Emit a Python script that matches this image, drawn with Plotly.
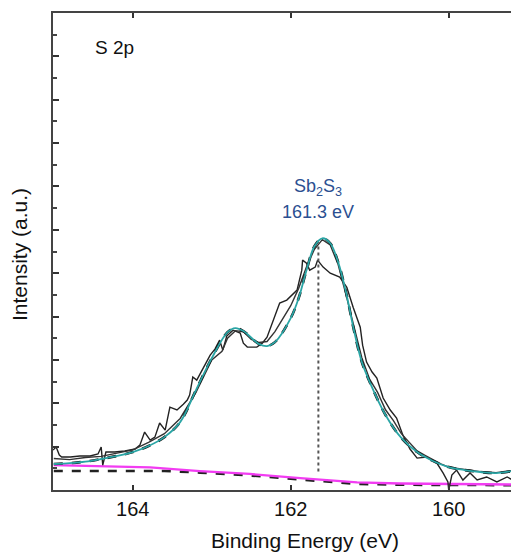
import plotly.graph_objects as go

# ---- data ----
raw_a_x = [165.01, 164.97, 164.93, 164.90, 164.79, 164.67, 164.54, 164.44, 164.40, 164.38, 164.34,
           164.23, 164.10, 163.97, 163.91, 163.85, 163.78, 163.72, 163.66, 163.59, 163.53, 163.44,
           163.36, 163.31, 163.28, 163.24, 163.19, 163.11, 163.02, 162.96, 162.90, 162.86, 162.81,
           162.73, 162.64, 162.60, 162.55, 162.43, 162.36, 162.30, 162.22, 162.14, 162.05, 161.98,
           161.92, 161.86, 161.85, 161.80, 161.76, 161.69, 161.66, 161.59, 161.50, 161.38, 161.29,
           161.21, 161.12, 161.09, 161.04, 160.97, 160.91, 160.83, 160.74, 160.66, 160.58, 160.49,
           160.40, 160.28, 160.15, 160.07, 160.01, 160.00, 159.96, 159.90, 159.82, 159.73, 159.64,
           159.52, 159.39, 159.26, 159.19, 159.11]
raw_a_y = [1.84, 1.98, 1.61, 1.52, 1.52, 1.57, 1.57, 1.66, 1.98, 1.15, 1.75,
           1.75, 1.80, 1.89, 2.07, 2.67, 2.30, 2.44, 3.09, 2.76, 3.82, 3.69,
           3.96, 4.15, 4.38, 5.21, 5.07, 5.62, 6.22, 6.50, 6.91, 6.45, 7.10,
           7.37, 7.24, 6.77, 6.59, 6.59, 6.77, 7.05, 7.83, 8.62, 8.76, 8.99,
           9.22, 10.14, 10.60, 10.46, 10.14, 10.28, 10.60, 10.28, 10.00, 9.82, 9.35,
           8.43, 7.51, 6.68, 5.90, 5.44, 5.16, 4.24, 3.69, 3.32, 2.53, 1.89,
           1.47, 1.52, 1.24, 0.78, 0.37, 0.00, 0.69, 0.92, 0.46, 0.78, 0.46,
           0.60, 0.37, 0.60, 0.46, 0.83]

raw_b_x = [165.0, 164.8, 164.6, 164.4, 164.2, 164.0, 163.8, 163.6, 163.4, 163.2, 163.0, 162.87,
           162.8, 162.7, 162.6, 162.5, 162.4, 162.3, 162.2, 162.1, 162.0, 161.9, 161.8, 161.7,
           161.6, 161.5, 161.4, 161.3, 161.2, 161.1, 161.0, 160.9, 160.8, 160.7, 160.6, 160.5,
           160.4, 160.3, 160.2, 160.1, 160.0, 159.8, 159.6, 159.4, 159.2, 159.1]
raw_b_y = [1.45, 1.40, 1.50, 1.55, 1.70, 1.85, 2.20, 2.60, 3.30, 4.50, 6.00, 6.40,
           7.00, 7.35, 7.30, 6.95, 6.80, 6.85, 7.30, 7.90, 8.50, 9.30, 10.30, 11.10,
           11.55, 11.30, 10.40, 9.00, 7.50, 6.10, 5.10, 4.50, 3.70, 3.20, 2.60, 2.20,
           1.80, 1.60, 1.40, 1.20, 1.05, 0.95, 0.85, 0.80, 0.90, 1.05]

fit_x = [165.0, 164.8, 164.6, 164.4, 164.2, 164.0, 163.8, 163.6, 163.4, 163.2, 163.0, 162.8,
         162.7, 162.6, 162.4, 162.3, 162.2, 162.0, 161.9, 161.8, 161.7, 161.6, 161.5, 161.4,
         161.3, 161.2, 161.1, 161.0, 160.8, 160.6, 160.4, 160.2, 160.0, 159.8, 159.6, 159.4,
         159.2, 159.1]
fit_y = [1.20, 1.24, 1.31, 1.43, 1.57, 1.75, 2.03, 2.44, 3.13, 4.61, 6.08, 7.28,
         7.47, 7.33, 6.73, 6.64, 6.82, 7.93, 8.85, 10.14, 11.24, 11.61, 11.38, 10.51,
         9.12, 7.37, 5.90, 4.98, 3.46, 2.40, 1.75, 1.34, 1.06, 0.92, 0.83, 0.78,
         0.88, 1.06]

bg_x = [165.0, 164.4, 163.78, 163.15, 162.52, 161.88, 161.5, 161.16, 160.62, 159.98, 159.11]
bg_y = [1.15, 1.11, 1.04, 0.87, 0.74, 0.55, 0.46, 0.35, 0.30, 0.28, 0.25]
bg2_x = [165.0, 163.6, 163.15, 162.52, 161.88, 161.5, 161.16, 160.62, 159.98, 159.11]
bg2_y = [0.88, 0.88, 0.80, 0.67, 0.48, 0.39, 0.28, 0.24, 0.23, 0.22]

peak_pos = 161.65
peak_line_y = [0.85, 11.3]
peak_label = "Sb<sub>2</sub>S<sub>3</sub>"
peak_value = "161.3 eV"
region_label = "S 2p"
x_ticks = [164, 162, 160]

FONT = "Liberation Sans, Arial, sans-serif"

# the page body adds an 8px offset; figure size/margins compensate for it
OFF = 8
W, H = 519 - OFF, 553 - OFF
ML, MT, MB = 53 - OFF, 13 - OFF, 553 - 490
plot_w = 519 - 53
plot_h = 490 - 13


def px(xp):
    return (xp - 53) / plot_w


def py(yp):
    return (490 - yp) / plot_h


fig = go.Figure()
# background (black dashed under magenta)
fig.add_trace(go.Scatter(x=bg2_x, y=bg2_y, mode="lines",
                         line=dict(color="#222222", width=2.5, dash="dash")))
fig.add_trace(go.Scatter(x=bg_x, y=bg_y, mode="lines",
                         line=dict(color="#f23cf2", width=2.3)))
# raw data
fig.add_trace(go.Scatter(x=raw_a_x, y=raw_a_y, mode="lines",
                         line=dict(color="#222222", width=1.4)))
fig.add_trace(go.Scatter(x=raw_b_x, y=raw_b_y, mode="lines",
                         line=dict(color="#333333", width=1.4)))
# fit envelope (black dashed under teal)
fig.add_trace(go.Scatter(x=fit_x, y=fit_y, mode="lines", line_shape="spline",
                         line=dict(color="#111111", width=2.6, dash="dash")))
fig.add_trace(go.Scatter(x=fit_x, y=fit_y, mode="lines", line_shape="spline",
                         line=dict(color="#2aa5a5", width=1.8)))
# peak position line
fig.add_trace(go.Scatter(x=[peak_pos, peak_pos], y=peak_line_y, mode="lines",
                         line=dict(color="#555555", width=2, dash="dot")))
# invisible trace for right-side ticks
fig.add_trace(go.Scatter(x=[None], y=[None], yaxis="y2", showlegend=False))

fig.update_layout(
    width=W, height=H,
    margin=dict(l=ML, r=0, t=MT, b=MB, pad=0),
    paper_bgcolor="white", plot_bgcolor="white",
    showlegend=False,
    font=dict(family=FONT, color="#111111"),
    xaxis=dict(range=[165.01, 159.11], tickvals=x_ticks, ticks="inside", ticklen=5,
               tickwidth=2, tickcolor="#333333", showline=True, linecolor="#444444",
               linewidth=2, mirror="ticks", showgrid=False, zeroline=False,
               tickfont=dict(size=20, family=FONT, color="#111111")),
    yaxis=dict(range=[0, 22], dtick=2, tick0=0, ticks="inside", ticklen=6, tickwidth=2,
               tickcolor="#333333", showline=True, linecolor="#444444", linewidth=2,
               showticklabels=False, showgrid=False, zeroline=False,
               minor=dict(dtick=1, ticks="inside", ticklen=4, tickwidth=1.5,
                          tickcolor="#444444", showgrid=False)),
    yaxis2=dict(range=[0, 22], dtick=2, tick0=0, overlaying="y", side="right",
                ticks="inside", ticklen=3, tickwidth=1.5, tickcolor="#c8c8c8",
                showline=False, showticklabels=False, showgrid=False, zeroline=False),
)

fig.add_annotation(x=peak_pos, y=13.96, xref="x", yref="y", text=peak_label, showarrow=False,
                   font=dict(size=18, color="#2b4f91", family=FONT))
fig.add_annotation(x=peak_pos, y=12.81, xref="x", yref="y", text=peak_value, showarrow=False,
                   font=dict(size=18, color="#2b4f91", family=FONT))
fig.add_annotation(x=px(93), y=py(48), xref="paper", yref="paper", text=region_label,
                   showarrow=False, xanchor="left", yanchor="middle",
                   font=dict(size=19, color="#111111", family=FONT))
fig.add_annotation(x=px(305), y=py(540), xref="paper", yref="paper",
                   text="Binding Energy (eV)", showarrow=False, yanchor="middle",
                   borderpad=0,
                   font=dict(size=21, color="#111111", family=FONT))
fig.add_annotation(x=px(20), y=py(255), xref="paper", yref="paper",
                   text="Intensity (a.u.)", showarrow=False, textangle=-90,
                   xanchor="center", yanchor="middle", borderpad=0,
                   font=dict(size=21, color="#111111", family=FONT))

fig.write_html("out.html")
